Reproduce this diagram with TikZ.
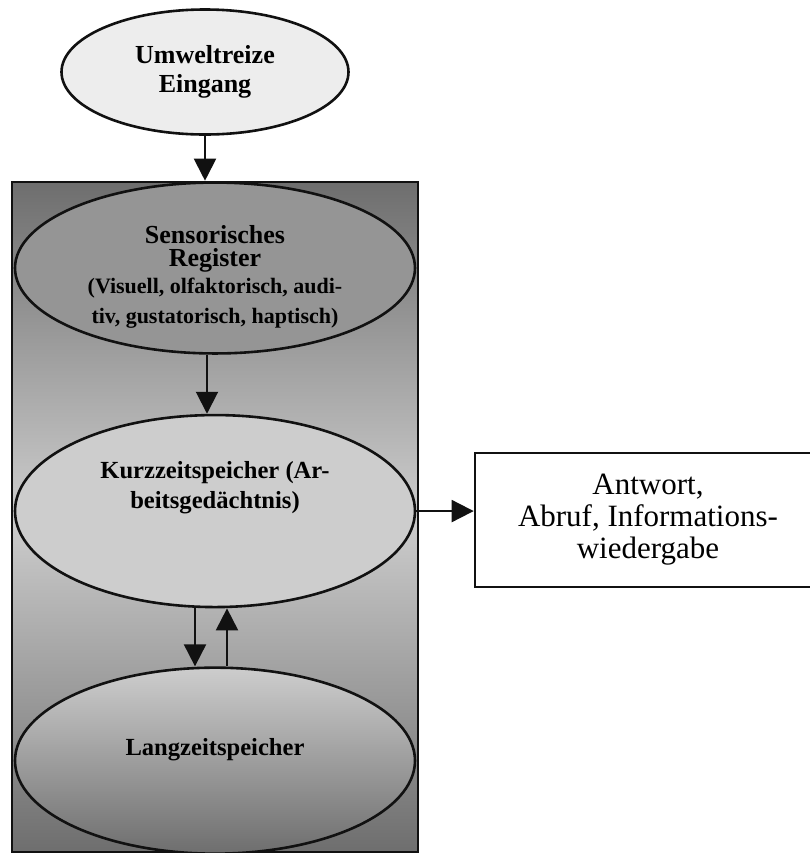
\documentclass[tikz,border=0pt]{standalone}
\usepackage{fontspec}
\setmainfont{Liberation Serif}
\usepackage{xcolor}
\usetikzlibrary{arrows.meta,positioning,shapes.geometric}
\definecolor{mmink}{HTML}{111111}
\definecolor{mmpale}{HTML}{EDEDED}
\definecolor{mmdark}{HTML}{6E6E6E}
\definecolor{mmmid}{HTML}{959595}
\definecolor{mmlight}{HTML}{CDCDCD}
\tikzset{
  inputellipse/.style={
    ellipse,
    draw=mmink,
    fill=mmpale,
    line width=1.3pt,
    minimum width=143.5pt,
    minimum height=62.5pt,
    inner sep=0pt,
    align=center,
    font=\bfseries\fontsize{13}{14.5}\selectfont
  },
  memellipse/.style={
    ellipse,
    draw=mmink,
    line width=1.3pt,
    minimum width=200pt,
    inner sep=0pt,
    align=center,
    font=\bfseries\fontsize{12.3}{15}\selectfont
  },
  panelbox/.style={
    rectangle,
    draw=mmink,
    line width=1.3pt,
    top color=mmdark,
    bottom color=mmdark,
    middle color=mmlight,
    minimum width=203pt,
    minimum height=335pt
  },
  answerbox/.style={
    rectangle,
    draw=mmink,
    fill=white,
    line width=1.3pt,
    minimum width=173pt,
    minimum height=67pt,
    align=center,
    font=\fontsize{15.5}{16}\selectfont
  },
  flow/.style={
    -{Triangle[length=11pt,width=11pt]},
    line width=1pt,
    draw=mmink
  }
}
\begin{document}
\begin{tikzpicture}[x=0.5pt,y=-0.5pt]
  \useasboundingbox (0,0) rectangle (810,853);

  \node[inputellipse] (umwelt) at (205,72) {Umweltreize\\Eingang};

  \node[panelbox] (panel) at (215,517) {};

  \node[memellipse, minimum height=83.5pt, fill=mmmid,
        font=\bfseries\fontsize{13}{11.5}\selectfont, text height=58pt] (sensor) at (215,268)
    {Sensorisches\\Register\\[2pt]
     \fontsize{11}{11}\selectfont (Visuell, olfaktorisch, audi-\\[3.5pt]
     \fontsize{11}{11}\selectfont tiv, gustatorisch, haptisch)};
  \node[memellipse, below=29.5pt of sensor, minimum height=96pt,
        fill=mmlight, text depth=26pt] (kurz)
    {Kurzzeitspeicher (Ar-\\beitsgedächtnis)};
  \node[memellipse, below=29pt of kurz, minimum height=93pt,
        top color=mmlight, bottom color=mmdark, text depth=14pt] (lang)
    {Langzeitspeicher};

  % box runs past the right edge, as in the scan
  \node[answerbox] (antwort) at (648,520)
    {Antwort,\\Abruf, Informations-\\wiedergabe};

  \draw[flow] (umwelt.south) -- (umwelt.south |- panel.north);
  \draw[flow] ([xshift=-4pt]sensor.south) -- ([xshift=-4pt]kurz.north);
  \draw[flow] ([xshift=-10pt]kurz.south) -- ([xshift=-10pt]lang.north);
  \draw[flow] ([xshift=6pt]lang.north) -- ([xshift=6pt]kurz.south);
  \draw[flow] (kurz.east) -- (kurz.east -| antwort.west);
\end{tikzpicture}
\end{document}
